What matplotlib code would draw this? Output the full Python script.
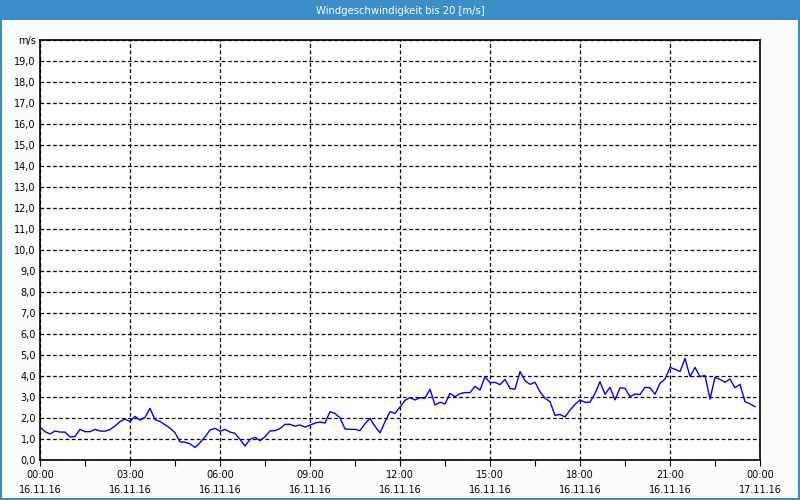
import numpy as np
import matplotlib
matplotlib.use("Agg")
import matplotlib.pyplot as plt
from matplotlib.patches import Rectangle

# wind speed, 10-minute values, 16.11.16 00:00 .. 23:50
wind = [1.56, 1.35, 1.24, 1.38, 1.33, 1.33, 1.10, 1.12, 1.46, 1.35, 1.35, 1.46,
        1.38, 1.37, 1.45, 1.62, 1.83, 1.95, 1.83, 2.08, 1.90, 2.03, 2.46, 1.92,
        1.84, 1.68, 1.52, 1.30, 0.86, 0.85, 0.77, 0.60, 0.83, 1.10, 1.43, 1.51,
        1.37, 1.46, 1.33, 1.27, 0.98, 0.67, 0.98, 1.08, 0.92, 1.11, 1.38, 1.40,
        1.50, 1.70, 1.70, 1.61, 1.67, 1.57, 1.66, 1.76, 1.81, 1.76, 2.30, 2.22,
        2.00, 1.48, 1.46, 1.46, 1.40, 1.73, 1.98, 1.60, 1.29, 1.82, 2.30, 2.22,
        2.52, 2.84, 2.97, 2.86, 2.97, 2.94, 3.37, 2.62, 2.75, 2.67, 3.17, 3.02,
        3.16, 3.21, 3.21, 3.51, 3.33, 3.97, 3.68, 3.70, 3.59, 3.84, 3.41, 3.37,
        4.21, 3.78, 3.60, 3.70, 3.25, 2.94, 2.78, 2.12, 2.17, 2.05, 2.38, 2.65,
        2.86, 2.75, 2.75, 3.17, 3.73, 3.13, 3.46, 2.86, 3.44, 3.41, 3.02, 3.14,
        3.12, 3.46, 3.44, 3.13, 3.65, 3.86, 4.41, 4.32, 4.21, 4.84, 3.97, 4.41,
        3.97, 4.03, 2.90, 3.94, 3.84, 3.70, 3.86, 3.44, 3.60, 2.78, 2.67, 2.54]
step_min = 10
hours = np.arange(len(wind)) * step_min / 60.0

x_ticks = [0, 3, 6, 9, 12, 15, 18, 21, 24]
x_labels = ["00:00\n16.11.16", "03:00\n16.11.16", "06:00\n16.11.16", "09:00\n16.11.16",
            "12:00\n16.11.16", "15:00\n16.11.16", "18:00\n16.11.16", "21:00\n16.11.16",
            "00:00\n17.11.16"]
y_ticks = list(range(0, 21))
y_labels = [f"{v},0" for v in range(0, 20)] + ["m/s"]
title = "Windgeschwindigkeit bis 20 [m/s]"

blue = "#3c8fc6"

fig = plt.figure(figsize=(8, 5), dpi=100, facecolor="#fbfdfb")
ax = fig.add_axes([0.05, 0.08, 0.90, 0.84])
ax.set_facecolor("white")

# title bar and outer frame
fig.patches.append(Rectangle((0, 0.96), 1, 0.04, transform=fig.transFigure,
                             facecolor=blue, edgecolor="none", zorder=0))
fig.patches.append(Rectangle((0.001, 0.002), 0.998, 0.996, transform=fig.transFigure,
                             facecolor="none", edgecolor=blue, lw=1.5, zorder=1))
fig.text(0.5, 0.979, title, ha="center", va="center", color="white", fontsize=7.2)

ax.plot(hours, wind, color="#0000ff", lw=1)

ax.set_xlim(0, 24)
ax.set_ylim(0, 20)
ax.set_xticks(x_ticks)
ax.set_xticklabels(x_labels, fontsize=7, linespacing=1.7)
ax.set_xticks(np.arange(1.5, 24, 3), minor=True)
ax.set_yticks(y_ticks)
ax.set_yticklabels(y_labels, fontsize=7)

ax.tick_params(axis="x", which="both", direction="out", length=4, width=0.8, pad=3)
ax.tick_params(axis="y", length=0, pad=3)

ax.grid(True, which="major", color="black", lw=0.9, linestyle=(0, (3, 2)))
for s in ax.spines.values():
    s.set_linewidth(1.2)

fig.savefig("out.png", dpi=100, facecolor=fig.get_facecolor())
